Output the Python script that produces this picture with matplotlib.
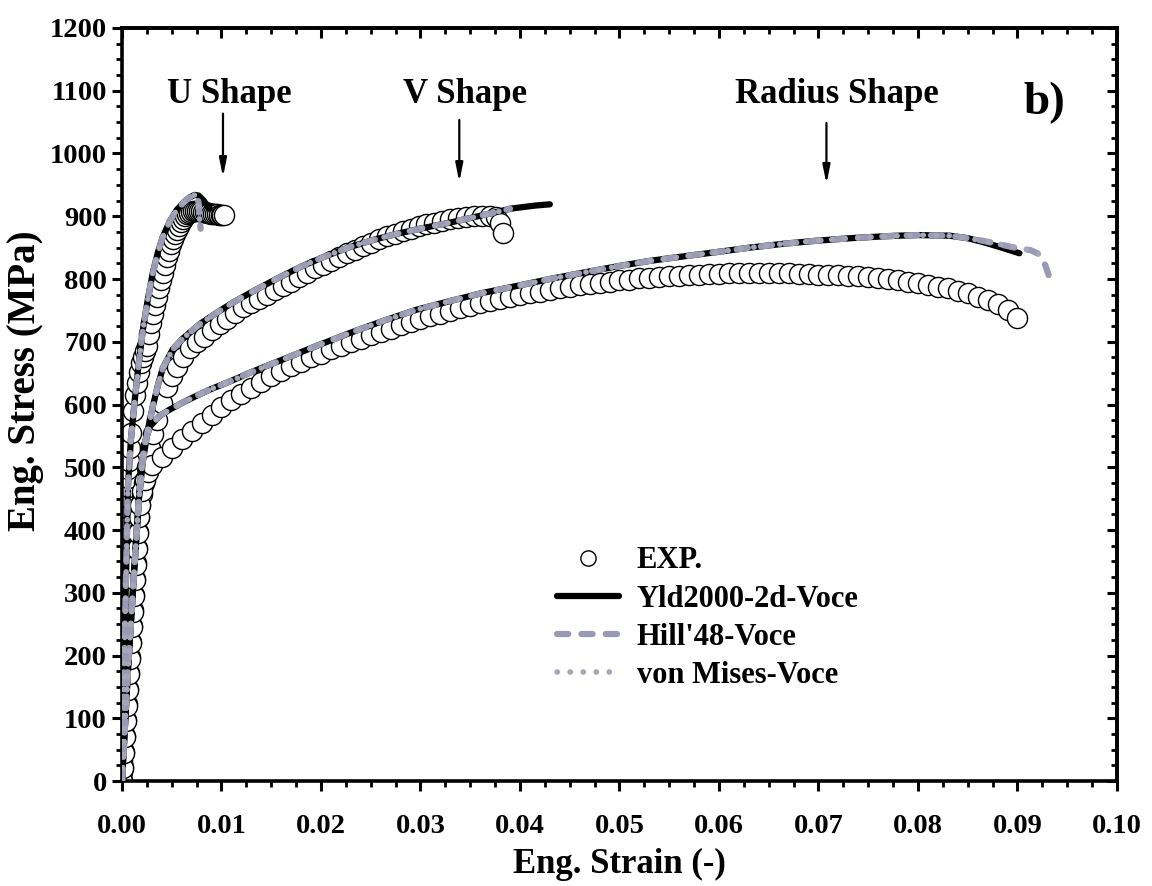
"""
Curvas tensao-deformacao de engenharia: ensaio (EXP.) e modelos Voce
"""

import numpy as np
import matplotlib
matplotlib.use('Agg')
import matplotlib.pyplot as plt
from matplotlib.lines import Line2D
from matplotlib.ticker import MultipleLocator

plt.rcParams['font.family'] = ['Liberation Serif', 'DejaVu Serif']
plt.rcParams['font.weight'] = 'bold'

# ---- U shape ----
u_exp_strain = [0, 0.00002, 0.00004, 0.00006, 0.00008, 0.0001, 0.00012, 0.00014, 0.00016, 0.00018,
                0.0002, 0.00022, 0.00024, 0.00026, 0.00028, 0.0003, 0.00032, 0.00034, 0.00036, 0.00038,
                0.0004, 0.00042, 0.00044, 0.00046, 0.00048, 0.0005, 0.00053, 0.00056, 0.0006, 0.00065,
                0.0007, 0.0008, 0.0009, 0.0011, 0.0013, 0.0015, 0.0017, 0.0019, 0.0021, 0.0023,
                0.0025, 0.0027, 0.0029, 0.0031, 0.0033, 0.0035, 0.0037, 0.0039, 0.0041, 0.0043,
                0.0045, 0.0047, 0.0049, 0.0051, 0.0053, 0.0055, 0.0057, 0.0059, 0.0061, 0.0063,
                0.0065, 0.0067, 0.0069, 0.0071, 0.0073, 0.0075, 0.0077, 0.0079, 0.0081, 0.0083,
                0.0085, 0.0087, 0.0089, 0.0091, 0.0093, 0.0095, 0.0097, 0.0099, 0.0101, 0.0103]
u_exp_stress = [0, 15, 32, 50, 68, 85, 102, 120, 138, 155,
                172, 190, 208, 225, 243, 260, 278, 295, 313, 330,
                348, 365, 383, 400, 418, 435, 452, 468, 483, 497,
                510, 530, 555, 590, 615, 635, 652, 666, 676, 685,
                694, 712, 730, 745, 759, 771, 785, 798, 810, 823,
                835, 845, 855, 863, 871, 878, 885, 891, 896, 900,
                903, 905, 907, 908, 909, 909, 909, 908, 907, 906,
                905, 905, 904, 904, 903, 903, 902, 902, 902, 902]

u_model_strain = [0, 0.0003, 0.0006, 0.0009, 0.0013, 0.0017, 0.0021, 0.0026, 0.0031, 0.0036,
                  0.0041, 0.0048, 0.0055, 0.0062, 0.0068, 0.0073]
u_model_stress = [0, 250, 470, 545, 610, 668, 719, 768, 810, 842,
                  867, 892, 910, 922, 930, 934]
u_yld_tail_strain = [0.0077, 0.0082, 0.0088]
u_yld_tail_stress = [933, 925, 912]
u_hill_tail_strain = [0.0076, 0.0077, 0.0078, 0.0079]
u_hill_tail_stress = [932, 920, 900, 880]
u_vm_tail_strain = [0.0076, 0.0077, 0.0078]
u_vm_tail_stress = [930, 915, 895]

# ---- V shape ----
v_exp_strain = [0, 0.0001, 0.0002, 0.0003, 0.0004, 0.0005, 0.0006, 0.0007, 0.0008, 0.0009,
                0.0010, 0.0011, 0.0012, 0.0013, 0.0014, 0.0015, 0.0016, 0.0017, 0.0018, 0.0020,
                0.0022, 0.0025, 0.0028, 0.0031, 0.0035, 0.0040, 0.0045, 0.0050, 0.0055, 0.0061,
                0.0068, 0.0075, 0.0082, 0.0090, 0.0098, 0.0106, 0.0114, 0.0122, 0.0130, 0.0138,
                0.0146, 0.0154, 0.0162, 0.0170, 0.0178, 0.0186, 0.0194, 0.0202, 0.0210, 0.0218,
                0.0226, 0.0234, 0.0242, 0.0250, 0.0258, 0.0266, 0.0274, 0.0282, 0.0290, 0.0298,
                0.0306, 0.0314, 0.0322, 0.0330, 0.0338, 0.0346, 0.0354, 0.0362, 0.0370, 0.0376,
                0.0380, 0.0383]
v_exp_stress = [0, 22, 47, 72, 97, 122, 147, 172, 197, 222,
                247, 272, 297, 322, 347, 372, 397, 420, 440, 458,
                475, 500, 530, 553, 575, 603, 628, 645, 660, 676,
                690, 700, 708, 718, 728, 737, 746, 755, 762, 768,
                775, 782, 789, 796, 803, 810, 817, 823, 829, 835,
                841, 847, 853, 858, 863, 868, 872, 876, 880, 884,
                887, 890, 893, 895, 897, 899, 900, 901, 901, 899,
                890, 873]

v_model_strain = [0, 0.0006, 0.0012, 0.0017, 0.0021, 0.0026, 0.0031, 0.0036, 0.0041, 0.0051,
                  0.0061, 0.0078, 0.0095, 0.0112, 0.0129, 0.0155, 0.0179, 0.0204, 0.0229, 0.0254,
                  0.0279, 0.0305, 0.0330, 0.0355, 0.0380, 0.0390]
v_model_stress = [0, 177, 330, 450, 510, 560, 597, 630, 658, 688,
                  705, 728, 746, 763, 778, 800, 819, 836, 851, 863,
                  873, 882, 890, 899, 908, 912]
v_yld_tail_strain = [0.0400, 0.0415, 0.0430]
v_yld_tail_stress = [914, 917, 919]

# ---- Radius shape ----
r_exp_strain = [0, 0.0001, 0.0002, 0.0003, 0.0004, 0.0005, 0.0006, 0.0007, 0.0008, 0.0009,
                0.0010, 0.0011, 0.0012, 0.0013, 0.0014, 0.0015, 0.0016, 0.0017, 0.0018, 0.0020,
                0.0023, 0.0026, 0.003, 0.004, 0.005, 0.006, 0.007, 0.008, 0.009, 0.010,
                0.011, 0.012, 0.013, 0.014, 0.015, 0.016, 0.017, 0.018, 0.019, 0.020,
                0.021, 0.022, 0.023, 0.024, 0.025, 0.026, 0.027, 0.028, 0.029, 0.030,
                0.031, 0.032, 0.033, 0.034, 0.035, 0.036, 0.037, 0.038, 0.039, 0.040,
                0.041, 0.042, 0.043, 0.044, 0.045, 0.046, 0.047, 0.048, 0.049, 0.050,
                0.051, 0.052, 0.053, 0.054, 0.055, 0.056, 0.057, 0.058, 0.059, 0.060,
                0.061, 0.062, 0.063, 0.064, 0.065, 0.066, 0.067, 0.068, 0.069, 0.070,
                0.071, 0.072, 0.073, 0.074, 0.075, 0.076, 0.077, 0.078, 0.079, 0.080,
                0.081, 0.082, 0.083, 0.084, 0.085, 0.086, 0.087, 0.088, 0.089, 0.090]
r_exp_stress = [0, 20, 45, 70, 95, 120, 145, 170, 195, 220,
                245, 270, 295, 320, 345, 370, 395, 420, 440, 462,
                480, 492, 503, 516, 530, 545, 558, 571, 584, 596,
                607, 617, 627, 636, 645, 653, 661, 668, 675, 681,
                688, 694, 700, 705, 711, 716, 721, 726, 731, 736,
                741, 745, 749, 753, 757, 761, 765, 768, 771, 774,
                777, 780, 783, 786, 788, 790, 792, 794, 796, 798,
                799, 801, 802, 803, 804, 805, 806, 807, 808, 808,
                809, 809, 809, 809, 809, 809, 809, 808, 808, 807,
                807, 806, 805, 804, 803, 802, 800, 798, 796, 794,
                791, 788, 785, 781, 777, 772, 767, 760, 751, 738]

r_model_strain = [0, 0.0006, 0.0012, 0.0017, 0.0020, 0.0023, 0.0028, 0.0038, 0.0048, 0.0061,
                  0.0075, 0.0090, 0.0106, 0.0129, 0.0162, 0.0195, 0.0229, 0.0262, 0.0296, 0.0330,
                  0.0363, 0.0397, 0.0430, 0.0463, 0.0497, 0.0531, 0.0564, 0.0598, 0.0631, 0.0664,
                  0.0698, 0.0732, 0.0765, 0.0780, 0.0800, 0.0832, 0.0850]
r_model_stress = [0, 177, 330, 450, 505, 540, 565, 582, 592, 603,
                  614, 625, 635, 651, 672, 693, 714, 733, 751, 765,
                  778, 789, 800, 810, 820, 829, 836, 843, 850, 856,
                  861, 865, 868, 869, 870, 869, 865]
r_yld_tail_strain = [0.0865, 0.0880, 0.0902]
r_yld_tail_stress = [859, 852, 841]
r_hill_tail_strain = [0.0865, 0.0880, 0.0900, 0.0913, 0.0920, 0.0928, 0.0932]
r_hill_tail_stress = [861, 856, 849, 846, 841, 822, 803]
r_vm_tail_strain = [0.0865, 0.0880, 0.0900, 0.0913, 0.0920, 0.0926]
r_vm_tail_stress = [861, 856, 850, 846, 842, 830]

# ---- estilos ----
HILL_COR = '#9a9ab5'
VM_COR = '#a6a6b9'
yld_kw = dict(color='black', lw=4.5, solid_capstyle='round', zorder=3)
hill_kw = dict(color=HILL_COR, lw=4.5, dashes=(1.8, 2.1), dash_capstyle='round', zorder=4)
vm_kw = dict(color=VM_COR, lw=4.0, dashes=(0.05, 2.3), dash_capstyle='round', zorder=5)
exp_kw = dict(ls='none', marker='o', ms=14.5, mfc='white', mec='black', mew=1.0, zorder=2)

fig = plt.figure(figsize=(11.52, 8.86), dpi=100)
ax = fig.add_axes([0.1059, 0.1185, 0.8637, 0.8499])

curvas = [
    (u_exp_strain, u_exp_stress, u_model_strain, u_model_stress,
     (u_yld_tail_strain, u_yld_tail_stress), (u_hill_tail_strain, u_hill_tail_stress),
     (u_vm_tail_strain, u_vm_tail_stress)),
    (v_exp_strain, v_exp_stress, v_model_strain, v_model_stress,
     (v_yld_tail_strain, v_yld_tail_stress), ([], []), ([], [])),
    (r_exp_strain, r_exp_stress, r_model_strain, r_model_stress,
     (r_yld_tail_strain, r_yld_tail_stress), (r_hill_tail_strain, r_hill_tail_stress),
     (r_vm_tail_strain, r_vm_tail_stress)),
]

for ex, ey, mx, my, yt, ht, vt in curvas:
    ax.plot(ex, ey, **exp_kw)
    ax.plot(list(mx) + list(yt[0]), list(my) + list(yt[1]), **yld_kw)
    ax.plot(list(mx) + list(ht[0]), list(my) + list(ht[1]), **hill_kw)
    ax.plot(list(mx) + list(vt[0]), list(my) + list(vt[1]), **vm_kw)

# eixos
ax.set_xlim(0, 0.10)
ax.set_ylim(0, 1200)
ax.xaxis.set_major_locator(MultipleLocator(0.01))
ax.xaxis.set_minor_locator(MultipleLocator(0.0025))
ax.yaxis.set_major_locator(MultipleLocator(100))
ax.yaxis.set_minor_locator(MultipleLocator(25))
ax.set_xticklabels(['%.2f' % v for v in ax.get_xticks()])
for s in ax.spines.values():
    s.set_linewidth(2.6)
ax.tick_params(which='major', direction='out', length=7, width=2.2, labelsize=20.5, pad=4)
ax.tick_params(which='minor', direction='out', length=4, width=2.0)
ax.tick_params(axis='x', which='major', pad=17)

# ticks para dentro no topo e a direita
topo = ax.secondary_xaxis('top')
topo.xaxis.set_major_locator(MultipleLocator(0.01))
topo.xaxis.set_minor_locator(MultipleLocator(0.0025))
topo.tick_params(which='major', direction='in', length=7, width=2.2, labeltop=False)
topo.tick_params(which='minor', direction='in', length=4, width=2.0)
dir_ = ax.secondary_yaxis('right')
dir_.yaxis.set_major_locator(MultipleLocator(100))
dir_.yaxis.set_minor_locator(MultipleLocator(25))
dir_.tick_params(which='major', direction='in', length=7, width=2.2, labelright=False)
dir_.tick_params(which='minor', direction='in', length=4, width=2.0)
for s in list(topo.spines.values()) + list(dir_.spines.values()):
    s.set_linewidth(2.6)

ax.set_xlabel('Eng. Strain (-)', fontsize=25, fontweight='bold', labelpad=6)
ax.set_ylabel('Eng. Stress (MPa)', fontsize=28, fontweight='bold')
ax.yaxis.set_label_coords(-0.078, 0.532)

# setas e rotulos das formas
seta = dict(arrowstyle='-|>,head_length=1.1,head_width=0.22', color='black', lw=1.6)
ax.annotate('', xy=(0.01015, 958), xytext=(0.01015, 1068), arrowprops=seta)
ax.annotate('', xy=(0.0339, 950), xytext=(0.0339, 1058), arrowprops=seta)
ax.annotate('', xy=(0.0708, 947), xytext=(0.0708, 1053), arrowprops=seta)
ax.text(0.01075, 1094, 'U Shape', fontsize=25, ha='center', va='center')
ax.text(0.0345, 1094, 'V Shape', fontsize=25, ha='center', va='center')
ax.text(0.0718, 1094, 'Radius Shape', fontsize=25, ha='center', va='center')
ax.text(0.0927, 1080, 'b)', fontsize=34, ha='center', va='center')

handles = [
    Line2D([], [], ls='none', marker='o', ms=11, mfc='white', mec='black', mew=1.0),
    Line2D([], [], color='black', lw=4.5, solid_capstyle='round'),
    Line2D([], [], color=HILL_COR, lw=4.5, dashes=(1.8, 2.1), dash_capstyle='round'),
    Line2D([], [], color=VM_COR, lw=4.0, dashes=(0.05, 2.3), dash_capstyle='round'),
]
labels = ['EXP.', 'Yld2000-2d-Voce', "Hill'48-Voce", 'von Mises-Voce']
ax.legend(handles, labels, loc='upper left', bbox_to_anchor=(0.41, 0.348), frameon=False,
          handlelength=2.0, handletextpad=0.6, labelspacing=0.3,
          prop={'weight': 'bold', 'size': 22})

fig.savefig('out.png', dpi=100)
